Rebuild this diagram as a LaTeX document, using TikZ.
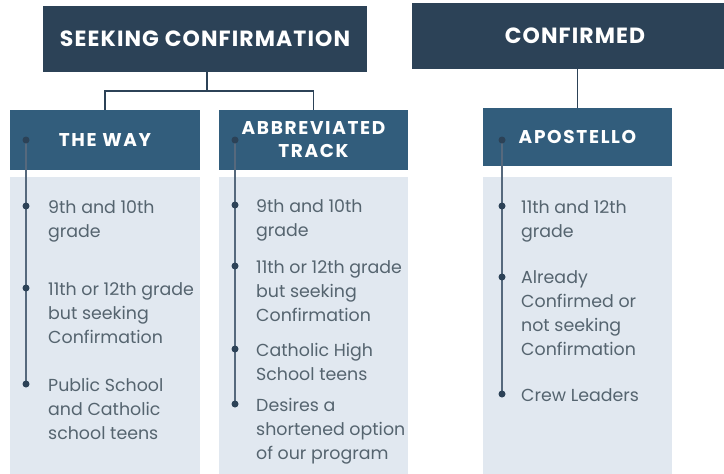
\documentclass[tikz,border=0pt]{standalone}
\usepackage{fontspec}
\setmainfont{Poppins}
\newfontfamily\headfont[LetterSpace=5]{Poppins}
\newfontfamily\subfont[LetterSpace=9]{Poppins}
\definecolor{darkhead}{HTML}{2C4257}
\definecolor{midhead}{HTML}{325D7C}
\definecolor{panel}{HTML}{E1E8F0}
\definecolor{bodytext}{HTML}{55646F}
\definecolor{tline}{HTML}{56697D}
\tikzset{
  bighead/.style={fill=darkhead, text=white, inner sep=0,
    font=\headfont\bfseries\fontsize{22}{26}\selectfont},
  subhead/.style={fill=midhead, text=white, inner sep=0, align=center,
    font=\subfont\bfseries\fontsize{18.5}{23}\selectfont},
  panelbox/.style={fill=panel, inner sep=0},
  item/.style={anchor=base west, inner sep=0, text=bodytext,
    font=\fontsize{17.4}{24}\selectfont},
  conn/.style={draw=darkhead, line width=1.8pt},
  tl/.style={draw=tline, line width=1.3pt},
  dotm/.style={circle, fill=darkhead, inner sep=0, minimum size=7pt}
}
\newcommand{\lines}[1]{\begin{tabular}[t]{@{}l@{}}#1\end{tabular}}
\begin{document}
\begin{tikzpicture}[x=1pt,y=-1pt]
\useasboundingbox (0,0) rectangle (724,474);
% header boxes
\node[bighead, minimum width=324pt, minimum height=66pt] (seek) at (205,39) {SEEKING CONFIRMATION};
\node[bighead, minimum width=326pt, minimum height=66pt] (conf) at (575,36) {CONFIRMED};
\node[subhead, minimum width=190pt, minimum height=60pt] (way) at (105,140) {THE WAY};
\node[subhead, minimum width=189pt, minimum height=60pt] (abb) at (313.5,140) {ABBREVIATED\\TRACK};
\node[subhead, minimum width=189pt, minimum height=58pt] (apo) at (577.5,137) {APOSTELLO};
% panels
\node[panelbox, minimum width=190pt, minimum height=300pt, anchor=north] (p1) at (105,177) {};
\node[panelbox, minimum width=189pt, minimum height=300pt, anchor=north] (p2) at (313.5,177) {};
\node[panelbox, minimum width=189pt, minimum height=300pt, anchor=north] (p3) at (577.5,177) {};
% connectors
\coordinate (sj) at (207,91);
\draw[conn] (seek.south -| sj) -- (sj);
\draw[conn] (way.north) |- (sj) -| (abb.north);
\draw[conn] (apo.north) -- (apo.north |- conf.south);
% timelines
\coordinate (t1) at (26,140);
\coordinate (t2) at (235,140);
\coordinate (t3) at (502,140);
\draw[tl] (t1) -- (26,384);
\draw[tl] (t2) -- (235,404);
\draw[tl] (t3) -- (502,394);
\foreach \c in {t1,t2,t3}{\node[dotm] at (\c) {};}
\foreach \x/\y in {26/206,26/288,26/384,235/205,235/266,235/349,235/404,502/206,502/277,502/394}{\node[dotm] at (\x,\y) {};}
% items
\node[item] (a1) at (48,213) {\lines{9th and 10th\\grade}};
\node[item] (a2) at (48,295) {\lines{11th or 12th grade\\but seeking\\Confirmation}};
\node[item] (a3) at (48,391) {\lines{Public School\\and Catholic\\school teens}};
\node[item] (b1) at (256,212) {\lines{9th and 10th\\grade}};
\node[item] (b2) at (256,273) {\lines{11th or 12th grade\\but seeking\\Confirmation}};
\node[item] (b3) at (256,356) {\lines{Catholic High\\School teens}};
\node[item] (b4) at (256,411) {\lines{Desires a\\shortened option\\of our program}};
\node[item] (c1) at (521,213) {\lines{11th and 12th\\grade}};
\node[item] (c2) at (521,283) {\lines{Already\\Confirmed or\\not seeking\\Confirmation}};
\node[item] (c3) at (521,401) {\lines{Crew Leaders}};
\end{tikzpicture}
\end{document}
